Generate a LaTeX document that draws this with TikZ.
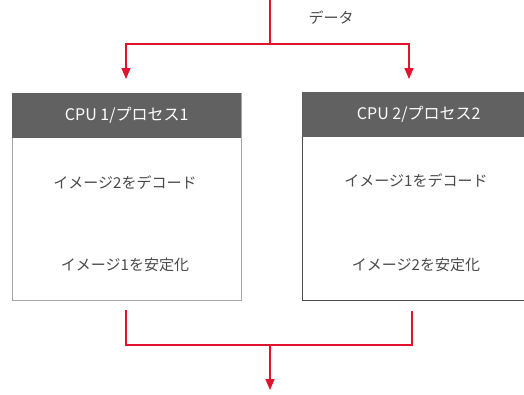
\documentclass[tikz,border=0pt]{standalone}
\usepackage{fontspec}
\setmainfont{Noto Sans CJK JP}
\usetikzlibrary{arrows.meta}
\definecolor{redline}{HTML}{E2132C}
\definecolor{hdr}{HTML}{616161}
\definecolor{txt}{HTML}{4A4A4A}
\tikzset{
  flow/.style={draw=redline, line width=1.3pt},
  flowarrow/.style={flow, -{Triangle[width=9pt,length=11pt]}},
  header/.style={fill=hdr, draw=none, minimum height=45pt, text=white, font=\fontsize{16}{18}\selectfont, inner sep=0pt},
  body/.style={draw=#1, line width=1pt, fill=white},
  lbl/.style={text=txt, font=\fontsize{15}{17}\selectfont, inner sep=0pt},
}
\begin{document}
\begin{tikzpicture}[x=1pt,y=-1pt]
\useasboundingbox (0,0) rectangle (524,394);
% boxes
\draw[body=gray!70] (12,93) rectangle (241,300);
\node[header, minimum width=229pt, anchor=north west] (h1) at (12,93) {CPU 1/プロセス1};
\draw[body=gray!140] (302,92) rectangle (535,300);
\node[header, minimum width=233pt, anchor=north west] (h2) at (302,92) {CPU 2/プロセス2};
\node[lbl] (a1) at (125,183) {イメージ2をデコード};
\node[lbl] (b1) at (125,265) {イメージ1を安定化};
\node[lbl] (a2) at (416,181) {イメージ1をデコード};
\node[lbl] (b2) at (416,265) {イメージ2を安定化};
\node[lbl] (data) at (331,18) {データ};
% top connectors
\coordinate (top) at (270,0);
\coordinate (split) at (270,44);
\coordinate (l1) at (126,44);
\coordinate (r1) at (409,44);
\coordinate (t1) at (126,79);
\coordinate (t2) at (409,79);
\draw[flow] (top) -- (split);
\draw[flowarrow] (split) -- (l1) -- (t1);
\draw[flowarrow] (split) -- (r1) -- (t2);
% bottom connectors
\coordinate (s1) at (126,310);
\coordinate (s2) at (412,311);
\coordinate (m1) at (126,345);
\coordinate (m2) at (412,345);
\coordinate (join) at (270,345);
\coordinate (out) at (270,390);
\draw[flow] (s1) -- (m1) -- (m2) -- (s2);
\draw[flowarrow] (join) -- (out);
\end{tikzpicture}
\end{document}
